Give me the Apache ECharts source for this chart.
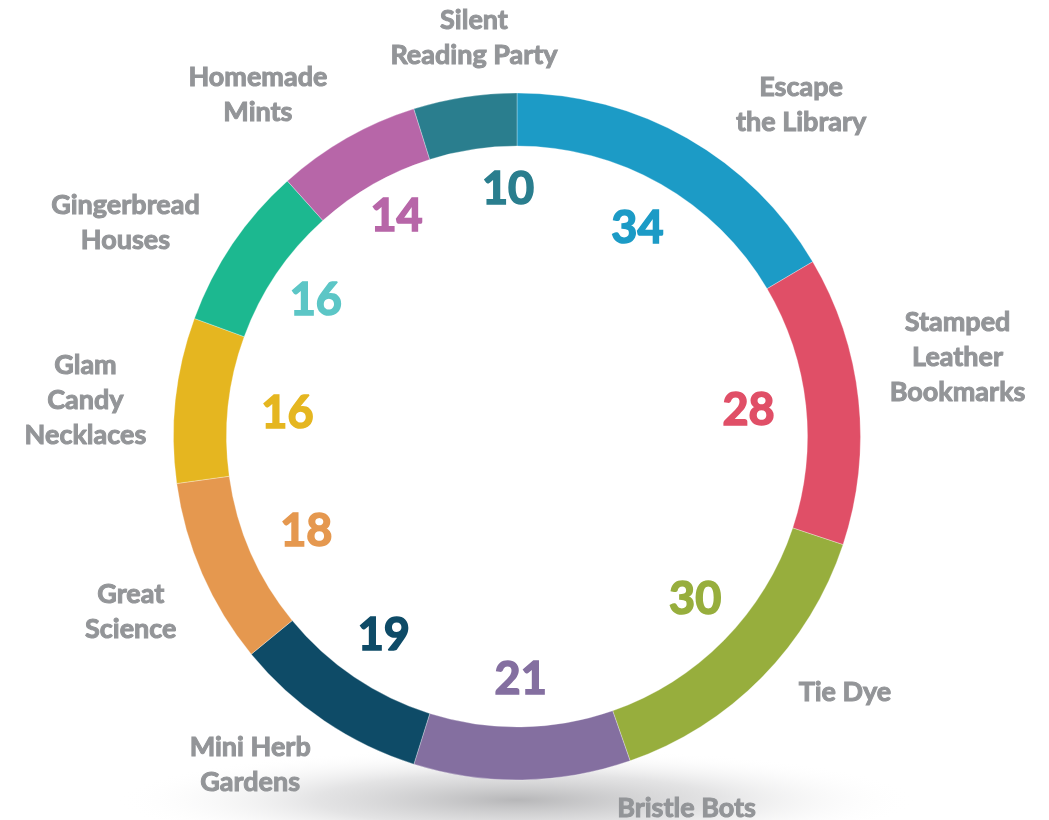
<!DOCTYPE html>
<html><head><meta charset="utf-8">
<script src="https://cdn.jsdelivr.net/npm/echarts@6/dist/echarts.min.js"></script>
<style>html,body{margin:0;padding:0;background:#fff}#c{width:1049px;height:820px}</style>
</head><body><div id="c"></div>
<script>
const categories = ['Escape\nthe Library','Stamped\nLeather\nBookmarks','Tie Dye','Bristle Bots','Mini Herb\nGardens','Great\nScience','Glam\nCandy\nNecklaces','Gingerbread\nHouses','Homemade\nMints','Silent\nReading Party'];
const values = [34, 28, 30, 21, 19, 18, 16, 16, 14, 10];
const colors = ['#1c9bc6','#e04f67','#97ae3d','#846fa0','#0e4b67','#e5984f','#e5b620','#1cb890','#b766a8','#2a7e8e'];
const numberColors = ['#1c9bc6','#e04f67','#97ae3d','#846fa0','#0e4b67','#e5984f','#e5b620','#5cc6c6','#b766a8','#2a7e8e'];
const nameNudges = [[72,40],[15,-34],[23,-45],[163,-56],[-27,-26],[6,4],[-6,9],[-37,26],[-47,30],[22,24]];
const numNudges = [[0,3],[-10,0],[5,-8],[0,0],[3,-2],[12,-2],[12,3],[0,0],[0,-9],[28,-7]];

const center = [517, 436.5];
const ringData = values.map((v, i) => ({ name: categories[i], value: v, itemStyle: { color: colors[i] } }));
const numData = values.map((v, i) => ({ name: categories[i], value: v, label: { color: numberColors[i], textBorderColor: numberColors[i] } }));
const nameData = values.map((v, i) => ({ name: categories[i], value: v }));

const chart = echarts.init(document.getElementById('c'), null, { renderer: 'canvas' });
chart.setOption({
  backgroundColor: '#ffffff',
  animation: false,
  graphic: [{
    type: 'circle', z: -10, silent: true,
    x: 517, y: 800, scaleY: 0.13,
    shape: { cx: 0, cy: 0, r: 400 },
    style: {
      fill: new echarts.graphic.RadialGradient(0.5, 0.5, 0.5, [
        { offset: 0, color: 'rgba(170,170,172,0.85)' },
        { offset: 0.5, color: 'rgba(200,200,202,0.5)' },
        { offset: 1, color: 'rgba(255,255,255,0)' }
      ])
    }
  }],
  series: [
    {
      type: 'pie', center: center, radius: [290.5, 343.5], startAngle: 90, clockwise: true,
      silent: true, avoidLabelOverlap: false,
      label: { show: false }, labelLine: { show: false },
      itemStyle: { borderColor: 'rgba(255,255,255,0.5)', borderWidth: 0.6 },
      data: ringData
    },
    {
      type: 'pie', center: center, radius: [190, 290], startAngle: 90, clockwise: true,
      silent: true, avoidLabelOverlap: false,
      itemStyle: { color: 'rgba(0,0,0,0)' },
      label: { show: true, position: 'inside', formatter: '{c}', fontFamily: 'Lato', fontWeight: 'bold', fontSize: 45, textBorderWidth: 1.6 },
      labelLine: { show: false },
      labelLayout: function (p) { return { dx: numNudges[p.dataIndex][0], dy: numNudges[p.dataIndex][1] }; },
      data: numData
    },
    {
      type: 'pie', center: center, radius: [395, 455], startAngle: 90, clockwise: true,
      silent: true, avoidLabelOverlap: false,
      itemStyle: { color: 'rgba(0,0,0,0)' },
      label: { show: true, position: 'inside', formatter: '{b}', fontFamily: 'Lato', fontWeight: 'bold', fontSize: 27, lineHeight: 35, color: '#939598', textBorderColor: '#939598', textBorderWidth: 1, align: 'center' },
      labelLine: { show: false },
      labelLayout: function (p) { return { dx: nameNudges[p.dataIndex][0], dy: nameNudges[p.dataIndex][1] }; },
      data: nameData
    }
  ]
});
</script></body></html>
